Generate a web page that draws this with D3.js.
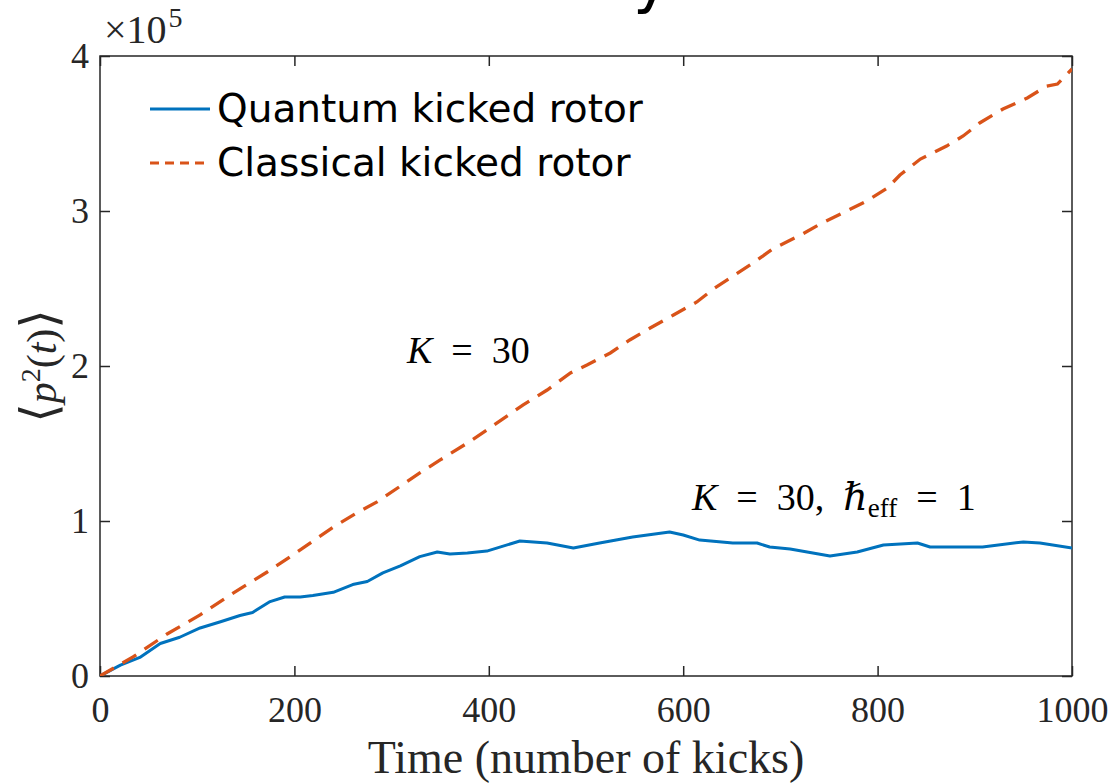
<!DOCTYPE html>
<html>
<head>
<meta charset="utf-8">
<script src="https://cdn.jsdelivr.net/npm/d3@7"></script>
<style>
  body { margin: 0; background: #fff; }
  svg { display: block; }
  .serif { font-family: "Liberation Serif", "DejaVu Serif", serif; }
</style>
</head>
<body>
<div id="chart"></div>
<script>
// Quantum kicked rotor, <p^2(t)> in units of 1e5
const quantumT = [0, 21, 41, 62, 82, 103, 124, 144, 157, 175, 190, 206, 219, 240, 260, 275, 291, 309, 329, 347,
    360, 378, 398, 432, 460, 487, 514, 548, 586, 600, 617, 651, 676, 689, 710, 751, 779, 806, 841, 854,
    908, 950, 967, 1000];
const quantumV = [0, 0.07, 0.12, 0.21, 0.25, 0.31, 0.35, 0.39, 0.41, 0.48, 0.51, 0.51, 0.52, 0.54, 0.59, 0.61, 0.665, 0.71, 0.77, 0.80,
    0.787, 0.794, 0.806, 0.871, 0.858, 0.826, 0.858, 0.897, 0.929, 0.91, 0.877, 0.858, 0.858, 0.832, 0.819, 0.774, 0.80, 0.845, 0.858, 0.832,
    0.832, 0.865, 0.858, 0.826];

// Classical kicked rotor
const classicalT = [0, 34, 69, 103, 137, 172, 206, 240, 264, 285, 329, 350, 378, 398, 435, 460, 484, 501, 525, 545,
    566, 590, 614, 631, 672, 692, 723, 741, 764, 789, 810, 823, 844, 871, 888, 905, 929, 954, 974, 985, 1000];
const classicalV = [0, 0.123, 0.271, 0.394, 0.535, 0.671, 0.813, 0.961, 1.052, 1.123, 1.31, 1.394, 1.503, 1.587, 1.748, 1.845, 1.955, 2.006, 2.084, 2.168,
    2.245, 2.329, 2.413, 2.497, 2.665, 2.755, 2.852, 2.916, 2.987, 3.065, 3.148, 3.232, 3.335, 3.419, 3.484, 3.568, 3.658, 3.729, 3.806, 3.819, 3.916];

const xTicks = [0, 200, 400, 600, 800, 1000];
const yTicks = [0, 1, 2, 3, 4];
const seriesNames = ["Quantum kicked rotor", "Classical kicked rotor"];
const seriesColors = ["#0072BD", "#D95319"];

const W = 1115, H = 784;
const margin = {top: 56, right: 43, bottom: 108, left: 100};
const width = W - margin.left - margin.right;
const height = H - margin.top - margin.bottom;

const svg = d3.select("#chart").append("svg")
    .attr("width", W)
    .attr("height", H);

// title sits above the visible area, only the tail of its "y" shows
svg.append("text")
    .attr("x", 633)
    .attr("y", 1)
    .style("font-family", "DejaVu Sans, sans-serif")
    .style("font-size", "62px")
    .attr("fill", "#000")
    .text("y");

const g = svg.append("g")
    .attr("transform", `translate(${margin.left},${margin.top})`);

const x = d3.scaleLinear().domain([0, 1000]).range([0, width]);
const y = d3.scaleLinear().domain([0, 4]).range([height, 0]);

g.append("defs").append("clipPath").attr("id", "clip")
    .append("rect").attr("width", width).attr("height", height);

// axes
const axisColor = "#262626";
const fmt = d3.format("d");
function styleAxis(sel) {
    sel.select(".domain").remove();
    sel.selectAll(".tick line").attr("stroke", axisColor).attr("stroke-width", 1.5);
    sel.selectAll(".tick text")
        .attr("class", "serif")
        .attr("fill", axisColor)
        .style("font-size", "36px");
}

g.append("g")
    .attr("transform", `translate(0,${height})`)
    .call(d3.axisBottom(x).tickValues(xTicks).tickFormat(fmt).tickSizeInner(-10).tickSizeOuter(0).tickPadding(20))
    .call(styleAxis);

g.append("g")
    .call(d3.axisTop(x).tickValues(xTicks).tickSizeInner(-10).tickSizeOuter(0).tickFormat(""))
    .call(styleAxis);

g.append("g")
    .call(d3.axisLeft(y).tickValues(yTicks).tickFormat(fmt).tickSizeInner(-10).tickSizeOuter(0).tickPadding(11))
    .call(styleAxis);

g.append("g")
    .attr("transform", `translate(${width},0)`)
    .call(d3.axisRight(y).tickValues(yTicks).tickSizeInner(-10).tickSizeOuter(0).tickFormat(""))
    .call(styleAxis);

g.append("rect")
    .attr("width", width)
    .attr("height", height)
    .attr("fill", "none")
    .attr("stroke", axisColor)
    .attr("stroke-width", 1.5);

// lines
const line = d3.line()
    .x(d => x(d[0]))
    .y(d => y(d[1]));

const quantum = quantumT.map((t, i) => [t, quantumV[i]]);
const classical = classicalT.map((t, i) => [t, classicalV[i]]);

const plot = g.append("g").attr("clip-path", "url(#clip)");

plot.append("path")
    .datum(quantum)
    .attr("fill", "none")
    .attr("stroke", seriesColors[0])
    .attr("stroke-width", 3)
    .attr("stroke-linejoin", "round")
    .attr("d", line);

plot.append("path")
    .datum(classical)
    .attr("fill", "none")
    .attr("stroke", seriesColors[1])
    .attr("stroke-width", 3.3)
    .attr("stroke-dasharray", "16,10")
    .attr("d", line);

// exponent label
const expo = svg.append("text")
    .attr("class", "serif")
    .attr("x", 104)
    .attr("y", 43)
    .attr("fill", axisColor)
    .style("font-size", "40px");
expo.append("tspan").text("×10");
expo.append("tspan").attr("dy", -16).attr("dx", 2).style("font-size", "28px").text("5");

// axis labels
svg.append("text")
    .attr("class", "serif")
    .attr("x", margin.left + width / 2)
    .attr("y", 773)
    .attr("text-anchor", "middle")
    .attr("fill", axisColor)
    .style("font-size", "46px")
    .text("Time (number of kicks)");

const yl = svg.append("text")
    .attr("class", "serif")
    .attr("transform", "translate(56,366) rotate(-90)")
    .attr("text-anchor", "middle")
    .attr("fill", axisColor)
    .style("font-size", "42px");
yl.append("tspan").style("font-size", "50px").text("⟨");
yl.append("tspan").style("font-style", "italic").text("p");
yl.append("tspan").attr("dy", -16).style("font-size", "28px").text("2");
yl.append("tspan").attr("dy", 16).text("(");
yl.append("tspan").style("font-style", "italic").text("t");
yl.append("tspan").text(")");
yl.append("tspan").style("font-size", "50px").text("⟩");

// annotations
const sp = "\u2002=\u2002";
const k1 = svg.append("text")
    .attr("class", "serif")
    .attr("x", 407)
    .attr("y", 363)
    .attr("fill", "#000")
    .style("font-size", "38px");
k1.append("tspan").style("font-style", "italic").text("K");
k1.append("tspan").text(sp + "30");

const k2 = svg.append("text")
    .attr("class", "serif")
    .attr("x", 692)
    .attr("y", 510)
    .attr("fill", "#000")
    .style("font-size", "38px");
k2.append("tspan").style("font-style", "italic").text("K");
k2.append("tspan").text(sp + "30,\u2002");
k2.append("tspan").style("font-style", "italic").text("ℏ");
k2.append("tspan").attr("dy", 7).style("font-size", "27px").text("eff");
k2.append("tspan").attr("dy", -7).text(sp + "1");

// legend
const legend = svg.append("g").attr("transform", "translate(150,109)");
seriesNames.forEach((name, i) => {
    const item = legend.append("g").attr("transform", `translate(0,${i * 54})`);
    item.append("line")
        .attr("x1", 0).attr("x2", 60)
        .attr("stroke", seriesColors[i])
        .attr("stroke-width", 3)
        .attr("stroke-dasharray", i === 0 ? null : "9,6");
    item.append("text")
        .attr("x", 67)
        .attr("y", 13)
        .style("font-family", "DejaVu Sans, sans-serif")
        .style("font-size", "39px")
        .attr("fill", "#000")
        .text(name);
});
</script>
</body>
</html>
